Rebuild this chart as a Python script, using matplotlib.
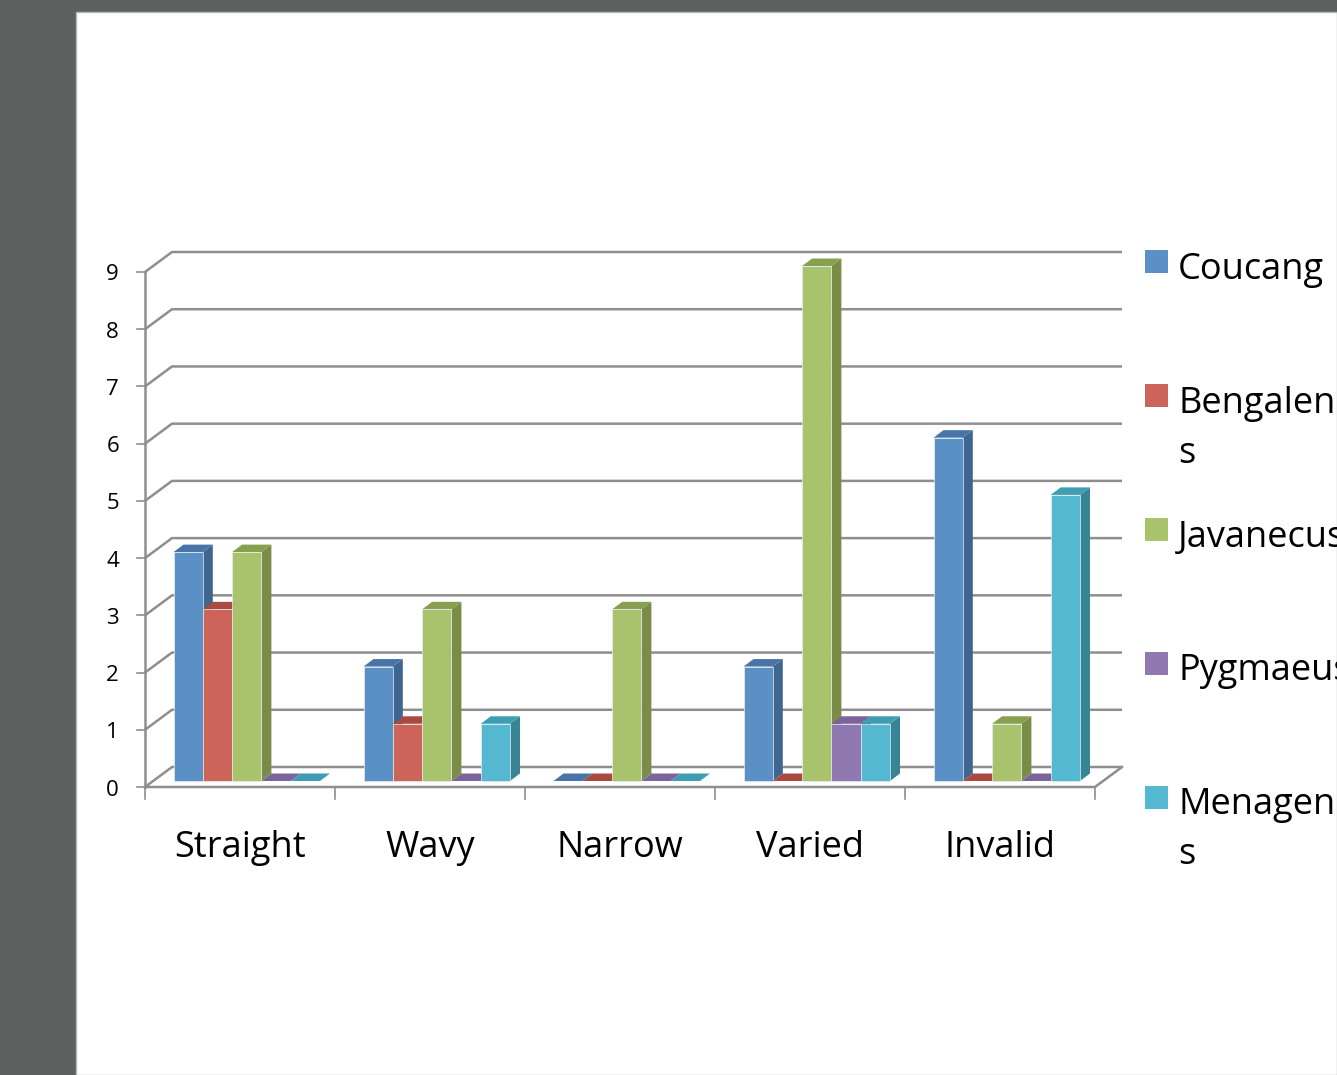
import matplotlib
matplotlib.use("Agg")
import matplotlib.pyplot as plt
from matplotlib.patches import Polygon, Rectangle

# ---- data ----
categories = ["Straight", "Wavy", "Narrow", "Varied", "Invalid"]
series = ["Coucang", "Bengalensis", "Javanecus", "Pygmaeus", "Menagensis"]
legend_labels = ["Coucang", "Bengalensi\ns", "Javanecus", "Pygmaeus", "Menagensi\ns"]
coucang = [4, 2, 0, 2, 6]
bengalensis = [3, 1, 0, 0, 0]
javanecus = [4, 3, 3, 9, 1]
pygmaeus = [0, 0, 0, 1, 0]
menagensis = [0, 1, 0, 1, 5]
values = [coucang, bengalensis, javanecus, pygmaeus, menagensis]
y_ticks = list(range(0, 10))

front_col = ["#5b90c6", "#cc645a", "#a9c36d", "#9079b0", "#55b8d1"]
side_col = ["#3f6591", "#9c463f", "#7a8c47", "#6a5787", "#378594"]
top_col = ["#4874a7", "#a84a42", "#87a050", "#7a649a", "#3f9db3"]

W, H = 1337, 1075
FONT = "Open Sans"

fig = plt.figure(figsize=(W / 100, H / 100), dpi=100)
fig.patch.set_facecolor("#5c605e")
fig.patches.append(Rectangle((76 / W, 0), (W - 76) / W, (H - 12) / H,
                             transform=fig.transFigure, facecolor="white",
                             edgecolor="#b8b8b8", lw=1, zorder=0))

ax = fig.add_axes([145 / W, (H - 787) / H, 950 / W, 515 / H])
ax.set_zorder(5)
ax.set_xlim(0, len(categories))
ax.set_ylim(0, 9)
ax.axis("off")
ax.patch.set_visible(False)

# pixel -> data units
px = len(categories) / 950.0
py = 9.0 / 515.0
wall_dx, wall_dy = 27 * px, 20 * py        # wall depth
plane_dx, plane_dy = 8 * px, 6 * py        # bars front plane
bar_dx, bar_dy = 10 * px, 7.5 * py         # bar depth
bar_w = 29.3 / 190.0
pad = 20.5 / 190.0

grid_col = "#8e8e8e"
ncat = len(categories)

# gridlines on side/back walls
for v in y_ticks:
    ax.plot([0, wall_dx, ncat + wall_dx], [v, v + wall_dy, v + wall_dy],
            color=grid_col, lw=1.8, clip_on=False, zorder=1, solid_capstyle="butt")
    ax.plot([0, -8 * px], [v, v], color=grid_col, lw=1.2, clip_on=False, zorder=1)
# front axes
ax.plot([0, 0], [0, 9], color=grid_col, lw=1.8, clip_on=False, zorder=1)
ax.plot([0, ncat, ncat + wall_dx], [0, 0, wall_dy], color=grid_col, lw=1.8,
        clip_on=False, zorder=1)
for i in range(ncat + 1):
    ax.plot([i, i], [0, -12 * py], color=grid_col, lw=1.2, clip_on=False, zorder=1)

# bars
for c in range(ncat):
    for s in range(len(series)):
        v = values[s][c]
        x0 = c + plane_dx + pad + s * bar_w
        x1 = x0 + bar_w
        y0 = plane_dy
        y1 = plane_dy + v
        top = Polygon([(x0, y1), (x1, y1), (x1 + bar_dx, y1 + bar_dy), (x0 + bar_dx, y1 + bar_dy)],
                      closed=True, facecolor=top_col[s], edgecolor="none",
                      clip_on=False, zorder=3)
        if v > 0:
            side = Polygon([(x1, y0), (x1 + bar_dx, y0 + bar_dy), (x1 + bar_dx, y1 + bar_dy), (x1, y1)],
                           closed=True, facecolor=side_col[s], edgecolor="none",
                           clip_on=False, zorder=3)
            front = Rectangle((x0, y0), bar_w, v, facecolor=front_col[s],
                              edgecolor="#e8eef4", lw=0.5, clip_on=False, zorder=3)
            ax.add_patch(side)
            ax.add_patch(top)
            ax.add_patch(front)
        else:
            ax.add_patch(top)

# tick labels
for v in y_ticks:
    ax.annotate(str(v), xy=(0, v), xytext=(-26, -3), textcoords="offset pixels",
                ha="right", va="center", fontsize=16, family=FONT, color="black",
                annotation_clip=False)
for i, name in enumerate(categories):
    ax.annotate(name, xy=(i + 0.5, 0), xytext=(0, -70), textcoords="offset pixels",
                ha="center", va="baseline", fontsize=26, family=FONT, color="black",
                annotation_clip=False)

# legend (manual, clipped by figure edge)
leg_top = 262
leg_step = 133.8
for s, lab in enumerate(legend_labels):
    cy = leg_top + s * leg_step
    fig.patches.append(Rectangle((1145 / W, 1 - (cy + 11.5) / H), 23 / W, 23 / H,
                                 transform=fig.transFigure, facecolor=front_col[s],
                                 edgecolor="none", zorder=2))
    lines = lab.split("\n")
    for k, line in enumerate(lines):
        fig.text(1178 / W, 1 - (cy + 17 + 50 * k) / H, line, ha="left", va="baseline",
                 fontsize=26, family=FONT, color="black", zorder=3)

fig.savefig("out.png", dpi=100, facecolor=fig.get_facecolor())
